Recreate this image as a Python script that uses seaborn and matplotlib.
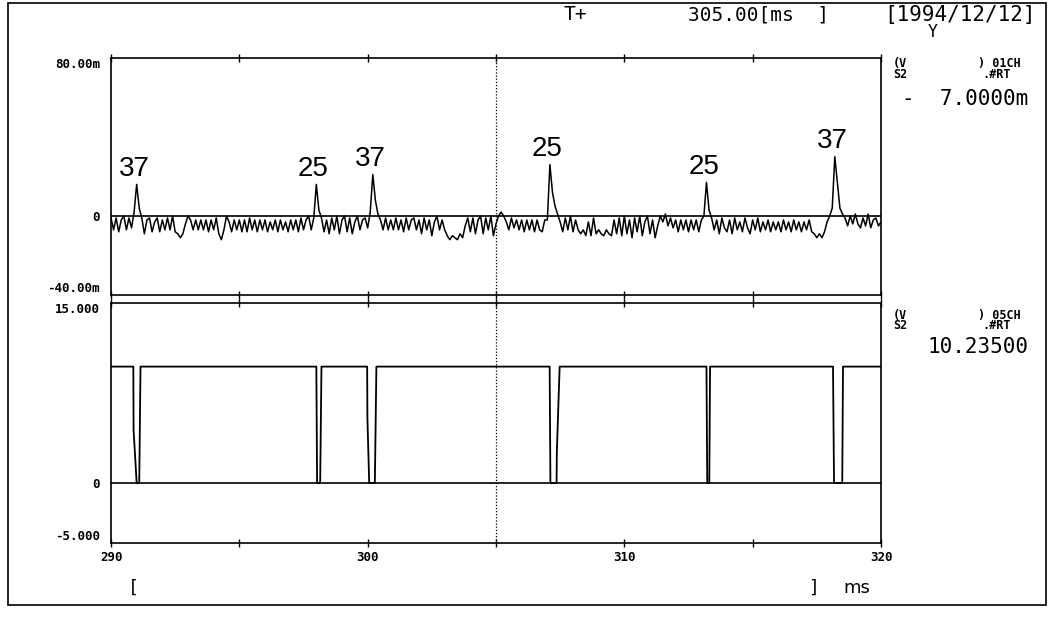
import numpy as np
import matplotlib
matplotlib.use("Agg")
import matplotlib.pyplot as plt
import seaborn as sns

# ---- CH01 trace (m-units), sampled every 0.1 ms from 290.0 to 320.0 ms ----
ch01_start = 290.0
ch01_step = 0.1
ch01_values = [
    -1, -7, -1, -8, -2, 0, -7, -1, -6, 2,           # 290
    16, 4, -1, -9, -2, -1, -8, -3, -1, -8,          # 291
    -2, -7, -1, -7, 0, -8, -9, -11, -9, -4,         # 292
    0, -2, -7, -2, -7, -2, -7, -2, -8, -2,          # 293
    -7, -1, -9, -12, -7, 0, -3, -8, -2, -7,         # 294
    -2, -8, -2, -8, -1, -7, -2, -8, -2, -7,         # 295
    -2, -8, -3, -7, -2, -8, -2, -7, -3, -8,         # 296
    -2, -7, -2, -8, -1, -7, -2, 0, -7, -1,          # 297
    16, 3, -1, -8, -2, -9, -1, -7, 0, -9,           # 298
    -2, 0, -8, -1, -9, -3, 0, -7, -2, -1,           # 299
    -6, 2, 21, 8, 1, -2, -7, -1, -7, -2,            # 300
    -7, -1, -7, -2, -8, -1, -7, -2, -1, -7,         # 301
    -2, -9, -1, -7, -2, -10, -3, 0, -7, -2,         # 302
    -7, -10, -12, -10, -11, -12, -9, -11, -5, -1,   # 303
    -8, -1, -9, -2, 0, -9, -1, -7, 0, -10,          # 304
    -4, 0, 2, 0, -3, -7, -1, -6, -2, -7,            # 305
    -2, -8, -2, -7, -2, -8, -2, -7, -8, -2,         # 306
    -2, 26, 12, 5, 1, -3, -8, -1, -7, 0,            # 307
    -8, -2, -7, -9, -7, -10, -3, -10, -1, -9,       # 308
    -7, -9, -10, -7, -9, -10, -2, -9, -1, -10,      # 309
    0, -9, -2, -11, -1, -8, 0, -10, -3, 0,          # 310
    -9, -2, -11, -5, 0, -3, 1, -5, -1, -6,          # 311
    -2, -8, -2, -7, -2, -8, -2, -7, -2, -8,         # 312
    -2, 0, 17, 3, -1, -7, -2, -9, -1, -6,           # 313
    -8, -2, -9, -1, -7, -3, -8, -1, -6, -9,         # 314
    -2, -7, -1, -8, -3, -7, -2, -8, -3, -7,         # 315
    -3, -8, -2, -7, -3, -8, -2, -7, -3, -8,         # 316
    -3, -7, -2, -8, -9, -11, -9, -11, -8, -3,       # 317
    0, 4, 30, 17, 4, 1, -1, -5, 0, -4,              # 318
    1, -4, -6, -1, -5, 1, -6, -2, -1, -5,           # 319
    -3,                                             # 320
]
peak_labels = ["37", "25", "37", "25", "25", "37"]
peak_times = [291.0, 298.0, 300.2, 307.1, 313.2, 318.2]

# ---- CH05 trace: pulse train (time ms, level) ----
ch05_times = [290.00, 290.87, 290.88, 291.00, 291.10, 291.15,
              298.00, 298.03, 298.15, 298.20,
              299.98, 299.99, 300.06, 300.28, 300.34,
              307.09, 307.12, 307.36, 307.37, 307.48,
              313.20, 313.23, 313.31, 313.34,
              318.13, 318.17, 318.49, 318.52, 320.00]
ch05_values = [9.7, 9.7, 4.4, 0, 0, 9.7,
               9.7, 0, 0, 9.7,
               9.7, 5.4, 0, 0, 9.7,
               9.7, 0, 0, 2.6, 9.7,
               9.7, 0, 0, 9.7,
               9.7, 0, 0, 9.7, 9.7]

ch01_ticks = [80, 0, -40]
ch01_ticklabels = ["80.00m", "0", "-40.00m"]
ch05_ticks = [15, 0, -5]
ch05_ticklabels = ["15.000", "0", "-5.000"]
x_ticks = [290, 300, 310, 320]
x_minor = [295, 305, 315]
cursor_ms = 305.0
date_text = "[1994/12/12]"
cursor_text = "305.00[ms  ]"
ch01_readout = "-  7.0000m"
ch05_readout = "10.23500"

ch01_times = np.round(ch01_start + ch01_step * np.arange(len(ch01_values)), 2)

sns.set_style("white")
plt.rcParams["text.color"] = "black"
plt.rcParams["xtick.color"] = "black"
plt.rcParams["ytick.color"] = "black"
mono = "DejaVu Sans Mono"
W, H = 1053, 618
fig = plt.figure(figsize=(W / 100, H / 100), dpi=100)


def fx(x):
    return x / W


def fy(y):
    return 1 - y / H


ax1 = fig.add_axes([fx(111), fy(295), fx(881) - fx(111), fy(58) - fy(295)])
ax2 = fig.add_axes([fx(111), fy(543), fx(881) - fx(111), fy(303) - fy(543)])

sns.lineplot(x=ch01_times, y=ch01_values, ax=ax1, color="black", lw=1.1,
             estimator=None, sort=False)
sns.lineplot(x=ch05_times, y=ch05_values, ax=ax2, color="black", lw=1.3,
             estimator=None, sort=False)

ax1.set_ylim(-40, 80)
ax2.set_ylim(-5, 15)
for ax in (ax1, ax2):
    ax.set_xlim(290, 320)
    ax.axhline(0, color="black", lw=1.2, zorder=1)
    ax.axvline(cursor_ms, color="black", lw=0.9, ls=(0, (1, 1.5)))
    for s in ax.spines.values():
        s.set_color("black")
        s.set_linewidth(1.2)
    ax.set_xticks(x_ticks)
    ax.set_xticks(x_minor, minor=True)
    ax.tick_params(axis="both", which="both", direction="inout", length=6,
                   width=1, color="black", top=True, bottom=True)
    ax.set_xlabel("")
    ax.set_ylabel("")

ax1.set_xticklabels([])
ax2.set_xticklabels([str(t) for t in x_ticks], family=mono, fontsize=9,
                    fontweight="bold")
ax2.tick_params(axis="x", pad=3)

ax1.set_yticks(ch01_ticks)
ax1.set_yticklabels(ch01_ticklabels, family=mono, fontsize=9, fontweight="bold")
ax2.set_yticks(ch05_ticks)
ax2.set_yticklabels(ch05_ticklabels, family=mono, fontsize=9, fontweight="bold")
for ax in (ax1, ax2):
    labs = ax.get_yticklabels()
    labs[0].set_va("top")
    labs[2].set_va("bottom")
    ax.tick_params(axis="y", pad=5)

# peak labels above the CH01 spikes
for lab, t in zip(peak_labels, peak_times):
    h = np.interp(t, ch01_times, ch01_values)
    ax1.annotate(lab, xy=(t, h), xytext=(-2, 2), textcoords="offset points",
                 ha="center", va="bottom", fontsize=20,
                 family=["Liberation Sans Narrow", "Liberation Sans", "DejaVu Sans"])

# header
fig.text(fx(563), fy(15), "T+", family=mono, fontsize=14, va="center")
fig.text(fx(688), fy(15), cursor_text, family=mono, fontsize=14, va="center")
fig.text(fx(884), fy(15), date_text, family=mono, fontsize=15, va="center")
fig.text(fx(933), fy(32), "Y", family=mono, fontsize=12, va="center", ha="center")

# channel readouts on the right
small = dict(family=mono, fontsize=8.5, fontweight="bold", va="center")
fig.text(fx(893), fy(64), "(V", **small)
fig.text(fx(1021), fy(64), ") 01CH", ha="right", **small)
fig.text(fx(893), fy(75), "S2", **small)
fig.text(fx(1011), fy(75), ".#RT", ha="right", **small)
fig.text(fx(1028), fy(99), ch01_readout, family=mono, fontsize=15,
         ha="right", va="center")
fig.text(fx(893), fy(315), "(V", **small)
fig.text(fx(1021), fy(315), ") 05CH", ha="right", **small)
fig.text(fx(893), fy(326), "S2", **small)
fig.text(fx(1011), fy(326), ".#RT", ha="right", **small)
fig.text(fx(1028), fy(347), ch05_readout, family=mono, fontsize=15,
         ha="right", va="center")

# x unit line
fig.text(fx(133), fy(588), "[", family=mono, fontsize=13, va="center", ha="center")
fig.text(fx(814), fy(588), "]", family=mono, fontsize=13, va="center", ha="center")
fig.text(fx(857), fy(588), "ms", family="DejaVu Sans", fontsize=13,
         va="center", ha="center")

# outer frame
fig.add_artist(plt.Rectangle((fx(8), fy(605)), fx(1046) - fx(8), fy(3) - fy(605),
                             fill=False, lw=1.2, color="black",
                             transform=fig.transFigure))

fig.savefig("out.png", dpi=100)
